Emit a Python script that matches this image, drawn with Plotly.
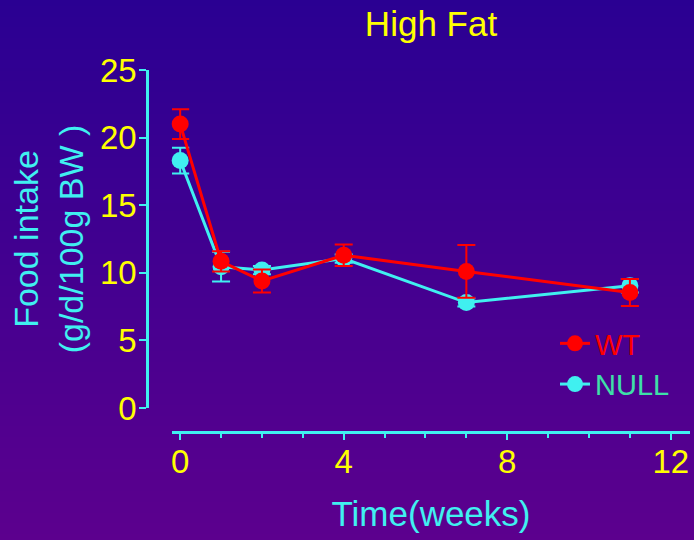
import zlib, struct, base64
import plotly.graph_objects as go

# ---- data ----
weeks = [0, 1, 2, 4, 7, 11]
wt_mean = [21.0, 10.85, 9.4, 11.3, 10.1, 8.55]
wt_err = [1.1, 0.75, 0.85, 0.8, 1.95, 1.0]
null_mean = [18.3, 10.45, 10.2, 11.05, 7.8, 9.05]
null_err = [0.95, 1.1, 0.3, 0.3, 0.3, 0.5]
x_ticks = [0, 4, 8, 12]
y_ticks = [0, 5, 10, 15, 20, 25]

W, H = 694, 540
L, R, T, B = 147, 4, 70, 108
PW, PH = W - L - R, H - T - B

RED = "#ff0000"
CYAN = "#40f0f0"
YEL = "#ffff00"
FONT = "Liberation Sans, Arial, sans-serif"


def png_gradient(h, top, bot):
    raw = b""
    for i in range(h):
        t = i / (h - 1)
        raw += b"\x00" + bytes(int(round(top[k] + (bot[k] - top[k]) * t)) for k in range(3))

    def chunk(tag, data):
        return struct.pack(">I", len(data)) + tag + data + struct.pack(">I", zlib.crc32(tag + data) & 0xffffffff)

    png = (b"\x89PNG\r\n\x1a\n"
           + chunk(b"IHDR", struct.pack(">IIBBBBB", 1, h, 8, 2, 0, 0, 0))
           + chunk(b"IDAT", zlib.compress(raw))
           + chunk(b"IEND", b""))
    return "data:image/png;base64," + base64.b64encode(png).decode()


bg = png_gradient(H, (42, 0, 146), (92, 0, 142))

fig = go.Figure()
fig.add_trace(go.Scatter(
    x=weeks, y=null_mean, name='<span style="color:#3ee0a8">NULL</span>',
    mode="lines+markers",
    line=dict(color=CYAN, width=3),
    marker=dict(color=CYAN, size=17),
    error_y=dict(type="data", array=null_err, color=CYAN, thickness=2, width=9),
    cliponaxis=False,
))
fig.add_trace(go.Scatter(
    x=weeks, y=wt_mean, name='<span style="color:#ff0000">WT</span>',
    mode="lines+markers",
    line=dict(color=RED, width=3),
    marker=dict(color=RED, size=17),
    error_y=dict(type="data", array=wt_err, color=RED, thickness=2, width=9),
    cliponaxis=False,
))

fig.update_layout(
    width=W, height=H,
    margin=dict(l=L, r=R, t=T, b=B, autoexpand=False),
    paper_bgcolor="#420090",
    plot_bgcolor="rgba(0,0,0,0)",
    font=dict(family=FONT, color=YEL),
    title=dict(text="High Fat", x=431 / W, xref="container", xanchor="center",
               y=1 - 24 / H, yref="container", yanchor="middle",
               font=dict(size=35, color=YEL, family=FONT)),
    xaxis=dict(
        domain=[25 / PW, 1], anchor="free", position=0,
        range=[-0.2, 12.47],
        tickmode="array", tickvals=x_ticks, ticktext=[str(v) for v in x_ticks],
        ticks="outside", ticklen=6, tickwidth=2, tickcolor=CYAN,
        minor=dict(dtick=1, ticks="outside", ticklen=4, tickwidth=2, tickcolor=CYAN),
        showline=True, linecolor=CYAN, linewidth=2.5,
        showgrid=False, zeroline=False,
        ticklabelstandoff=-6,
        tickfont=dict(size=33, color=YEL, family=FONT),
        title=dict(text="Time(weeks)", font=dict(size=35, color=CYAN, family=FONT), standoff=22),
    ),
    yaxis=dict(
        domain=[24 / PH, 1], anchor="free", position=0,
        range=[0, 25],
        tickmode="array", tickvals=y_ticks, ticktext=[str(v) for v in y_ticks],
        ticks="outside", ticklen=7, tickwidth=2, tickcolor=CYAN,
        showline=True, linecolor=CYAN, linewidth=2.5,
        showgrid=False, zeroline=False,
        ticklabelstandoff=-4,
        tickfont=dict(size=33, color=YEL, family=FONT),
        title=dict(text="Food intake<br>(g/d/100g BW )", font=dict(size=34, color=CYAN, family=FONT), standoff=5),
    ),
    legend=dict(
        x=(555 - L) / PW, xanchor="left",
        y=(432 - 364) / PH, yanchor="middle",
        traceorder="reversed",
        bgcolor="rgba(0,0,0,0)",
        font=dict(size=29, family=FONT),
        itemwidth=30, tracegroupgap=0,
    ),
    showlegend=True,
    images=[dict(
        source=bg, xref="paper", yref="paper",
        x=-L / PW, y=(PH + T) / PH, sizex=W / PW, sizey=H / PH,
        xanchor="left", yanchor="top", sizing="stretch", layer="below",
    )],
)

fig.write_html("out.html", config={"displayModeBar": False},
               post_script="document.body.style.margin='0';")
